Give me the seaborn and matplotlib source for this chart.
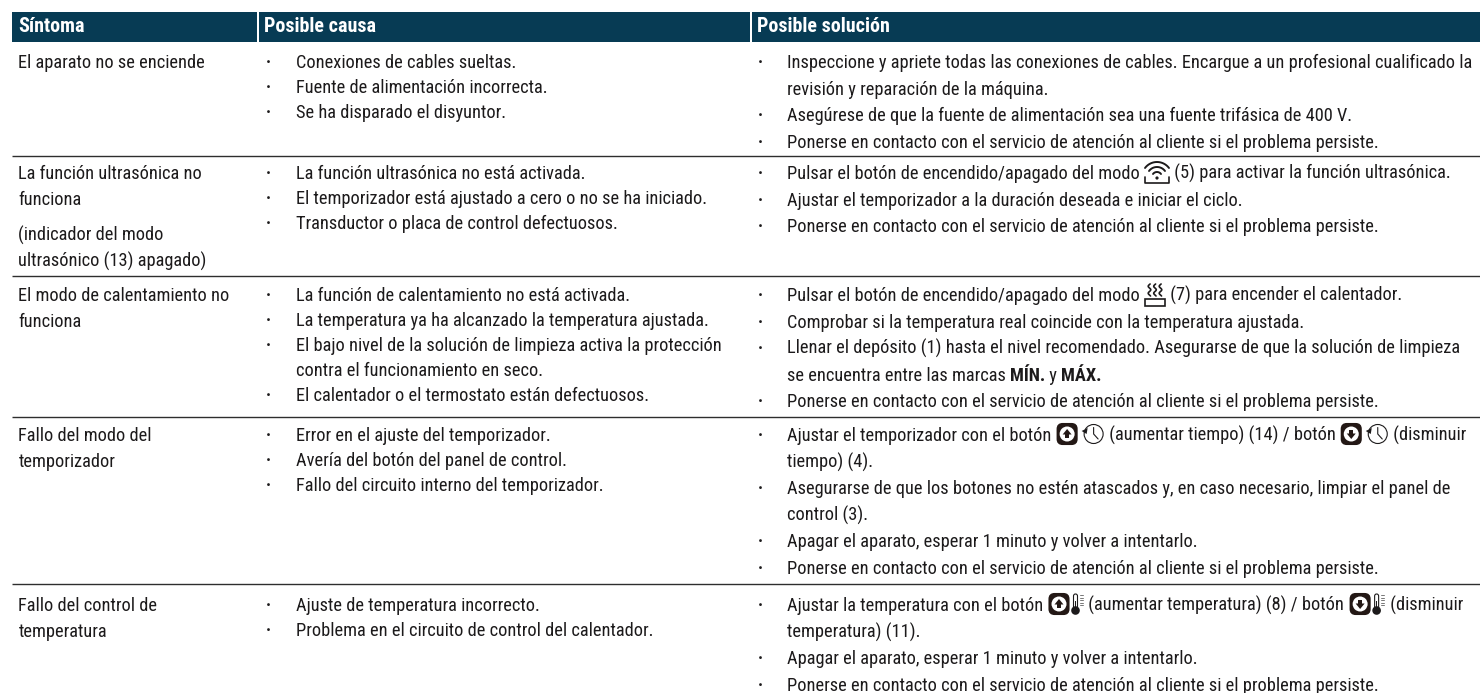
import re

import matplotlib
matplotlib.use("Agg")
import matplotlib.pyplot as plt
import numpy as np
import seaborn as sns
from matplotlib.patches import Circle, FancyBboxPatch, Polygon, Rectangle

HEADERS = ["Síntoma", "Posible causa", "Posible solución"]

# each cell is a list of items, each item a list of wrapped lines
SINTOMAS = [
    [["El aparato no se enciende"]],
    [["La función ultrasónica no", "funciona"], ["(indicador del modo", "ultrasónico (13) apagado)"]],
    [["El modo de calentamiento no", "funciona"]],
    [["Fallo del modo del", "temporizador"]],
    [["Fallo del control de", "temperatura"]],
]
CAUSAS = [
    [["Conexiones de cables sueltas."], ["Fuente de alimentación incorrecta."], ["Se ha disparado el disyuntor."]],
    [["La función ultrasónica no está activada."],
     ["El temporizador está ajustado a cero o no se ha iniciado."],
     ["Transductor o placa de control defectuosos."]],
    [["La función de calentamiento no está activada."],
     ["La temperatura ya ha alcanzado la temperatura ajustada."],
     ["El bajo nivel de la solución de limpieza activa la protección", "contra el funcionamiento en seco."],
     ["El calentador o el termostato están defectuosos."]],
    [["Error en el ajuste del temporizador."],
     ["Avería del botón del panel de control."],
     ["Fallo del circuito interno del temporizador."]],
    [["Ajuste de temperatura incorrecto."], ["Problema en el circuito de control del calentador."]],
]
PERSISTE = "Ponerse en contacto con el servicio de atención al cliente si el problema persiste."
REINTENTO = "Apagar el aparato, esperar 1 minuto y volver a intentarlo."
SOLUCIONES = [
    [["Inspeccione y apriete todas las conexiones de cables. Encargue a un profesional cualificado la",
      "revisión y reparación de la máquina."],
     ["Asegúrese de que la fuente de alimentación sea una fuente trifásica de 400 V."],
     [PERSISTE]],
    [["Pulsar el botón de encendido/apagado del modo {wifi} (5) para activar la función ultrasónica."],
     ["Ajustar el temporizador a la duración deseada e iniciar el ciclo."],
     [PERSISTE]],
    [["Pulsar el botón de encendido/apagado del modo {heat} (7) para encender el calentador."],
     ["Comprobar si la temperatura real coincide con la temperatura ajustada."],
     ["Llenar el depósito (1) hasta el nivel recomendado. Asegurarse de que la solución de limpieza",
      "se encuentra entre las marcas {b:MÍN.} y {b:MÁX.}"],
     [PERSISTE]],
    [["Ajustar el temporizador con el botón {up}{clock} (aumentar tiempo) (14) / botón {down}{clock} (disminuir",
      "tiempo) (4)."],
     ["Asegurarse de que los botones no estén atascados y, en caso necesario, limpiar el panel de",
      "control (3)."],
     [REINTENTO],
     [PERSISTE]],
    [["Ajustar la temperatura con el botón {up}{therm} (aumentar temperatura) (8) / botón {down}{therm} (disminuir",
      "temperatura) (11)."],
     [REINTENTO],
     [PERSISTE]],
]

HEADER_COLOR = "#073b54"
TEXT_COLOR = "#1c1a1b"
RULE_COLOR = "#2e2e2e"
FONT_SIZE = 13.25
HEADER_SIZE = 14.4

sns.set_style("white")
plt.rcParams["font.family"] = ["Roboto Condensed", "Roboto", "DejaVu Sans"]

fig, ax = plt.subplots(figsize=(14.8, 6.93), dpi=100)
ax.set_position([0, 0, 1, 1])
ax.set_xlim(0, 1480)
ax.set_ylim(693, 0)
ax.axis("off")
renderer = fig.canvas.get_renderer()


def text_width(s, **kw):
    # the "|" keeps trailing spaces in the measurement
    t = ax.text(0, 0, s + "|", fontsize=FONT_SIZE, **kw)
    bar = ax.text(0, 0, "|", fontsize=FONT_SIZE, **kw)
    w = t.get_window_extent(renderer).width - bar.get_window_extent(renderer).width
    t.remove()
    bar.remove()
    return w


def button(x, mid, up):
    mid = mid - 1
    ax.add_patch(FancyBboxPatch((x + 2, mid - 10), 19, 20, boxstyle="round,pad=0,rounding_size=5",
                                fc="#231815", ec="#231815", lw=1.5))
    ax.add_patch(Circle((x + 11.5, mid), 7.5, fc="white", ec="none"))
    s = 1 if up else -1
    ax.add_patch(Polygon([(x + 11.5, mid - 5 * s), (x + 7, mid + 0.5 * s), (x + 16, mid + 0.5 * s)],
                         fc="#231815", ec="none"))
    ax.add_patch(Rectangle((x + 9.5, mid if up else mid - 4), 4, 4, fc="#231815", ec="none"))
    return 23


def clock(x, mid):
    mid = mid - 1
    ax.add_patch(Circle((x + 15, mid), 9.5, fc="none", ec=TEXT_COLOR, lw=0.8))
    ax.plot([x + 15, x + 15, x + 19.5], [mid - 6.5, mid, mid + 5], color=TEXT_COLOR, lw=0.8)
    ax.add_patch(Polygon([(x + 3, mid - 3), (x + 9, mid - 6), (x + 8, mid)], fc=TEXT_COLOR, ec="none"))
    return 26


def thermometer(x, mid):
    mid = mid - 1
    ax.add_patch(FancyBboxPatch((x + 3, mid - 10), 4, 15, boxstyle="round,pad=0,rounding_size=2",
                                fc="white", ec=TEXT_COLOR, lw=0.8))
    ax.add_patch(Rectangle((x + 4.2, mid - 3), 1.6, 9, fc=TEXT_COLOR, ec="none"))
    ax.add_patch(Circle((x + 5, mid + 6.5), 4.3, fc=TEXT_COLOR, ec="none"))
    for dy in (-9, -6.5, -4, -1.5, 1):
        ax.plot([x + 9.5, x + 12.5], [mid + dy, mid + dy], color="#777777", lw=0.7)
    return 14


def wifi(x, mid):
    cx = x + 13
    ax.plot([x + 1, x + 1, x + 25, x + 25], [mid + 4, mid + 10, mid + 10, mid + 4], color=TEXT_COLOR, lw=1.2)
    ax.add_patch(Circle((cx, mid + 5), 1.6, fc=TEXT_COLOR, ec="none"))
    for r in (5, 10, 15):
        th = np.linspace(np.radians(-143), np.radians(-37), 24)
        ax.plot(cx + r * np.cos(th), mid + 4 + r * np.sin(th), color=TEXT_COLOR, lw=1.4)
    return 26


def heat(x, mid):
    ax.add_patch(Rectangle((x + 1, mid + 4), 20, 7, fc="none", ec=TEXT_COLOR, lw=1.2))
    ys = np.linspace(-11, 1, 20)
    for dx in (5.5, 11, 16.5):
        ax.plot(x + dx + 1.3 * np.sin(ys * 0.9), mid + ys, color=TEXT_COLOR, lw=1.2)
    return 22


def draw_line(x, mid, line):
    # walks through a line made of plain text, bold runs and inline icons
    baseline = mid + 6
    for part in re.split(r"(\{[^}]+\})", line):
        if not part:
            continue
        if part == "{up}" or part == "{down}":
            x += button(x, mid, part == "{up}")
        elif part == "{clock}":
            x += clock(x, mid)
        elif part == "{therm}":
            x += thermometer(x, mid)
        elif part == "{wifi}":
            x += wifi(x, mid)
        elif part == "{heat}":
            x += heat(x, mid)
        else:
            weight = "normal"
            if part.startswith("{b:"):
                part = part[3:-1]
                weight = "bold"
            ax.text(x, baseline, part, fontsize=FONT_SIZE, fontweight=weight, color=TEXT_COLOR,
                    va="baseline", ha="left")
            x += text_width(part, fontweight=weight)


def draw_bullets(items, x_dot, x_text, top, pitch):
    y = top
    for item in items:
        ax.text(x_dot, y + 6, "·", fontsize=FONT_SIZE, fontweight="bold", color=TEXT_COLOR, va="baseline")
        for line in item:
            draw_line(x_text, y, line)
            y += pitch


# header band, split by thin white gaps
band_edges = [(12, 257), (258.5, 750), (751.5, 1480)]
header_x = [18, 264.5, 757]
for (x0, x1), label, tx in zip(band_edges, HEADERS, header_x):
    ax.add_patch(Rectangle((x0, 12), x1 - x0, 30, fc=HEADER_COLOR, ec="none"))
    ax.text(tx, 27, label, fontsize=HEADER_SIZE, fontweight="bold", color="white", va="center", ha="left")

row_tops = [62, 173, 295, 435, 605]
row_rules = [155.5, 276, 416.5, 584]
for y in row_rules:
    ax.plot([12, 1480], [y, y], color=RULE_COLOR, lw=1.0, solid_capstyle="butt")

for top, sintoma, causa, solucion in zip(row_tops, SINTOMAS, CAUSAS, SOLUCIONES):
    y = top
    for item in sintoma:
        for line in item:
            draw_line(18.5, y, line)
            y += 26
        y += 10
    draw_bullets(causa, 265.5, 296, top, 25)
    draw_bullets(solucion, 758, 787, top, 26.6)

fig.savefig("out.png", dpi=100)
